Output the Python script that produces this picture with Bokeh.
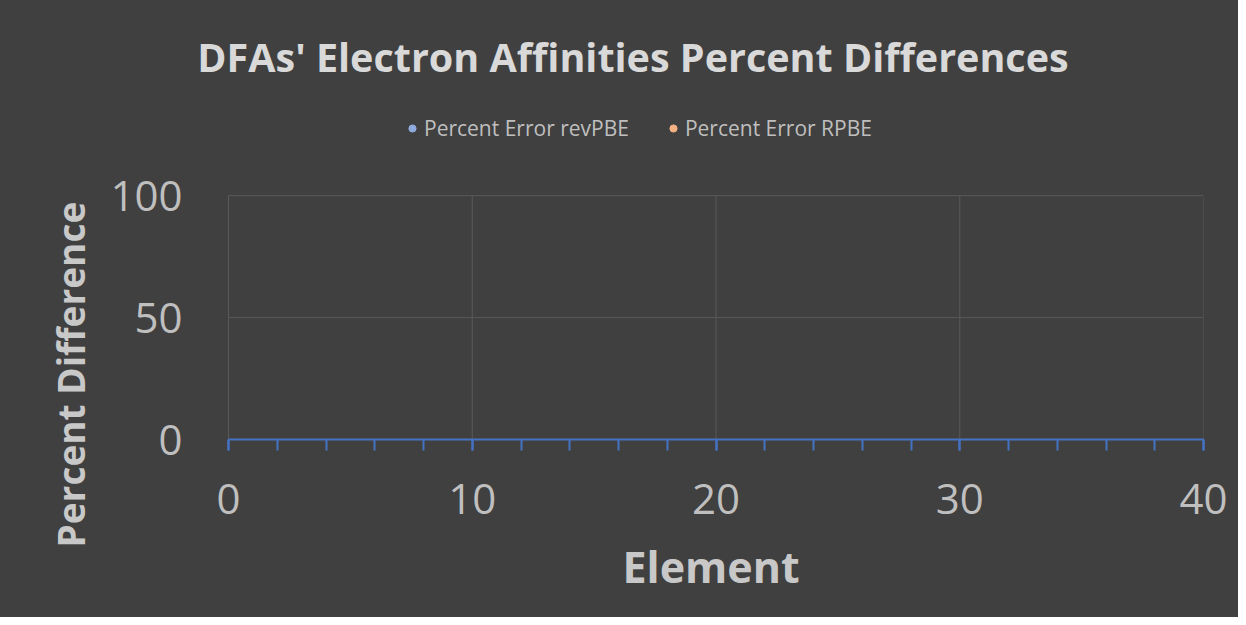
import numpy as np
from bokeh.plotting import figure
from bokeh.models import (ColumnDataSource, FixedTicker, Legend, LegendItem, Range1d, Title, Label)
from bokeh.embed import file_html
from bokeh.resources import INLINE

# ---- data (no point is visible in the reference: placeholder entries are empty/NaN) ----
element = [np.nan]
percent_error_revpbe = [np.nan]
percent_error_rpbe = [np.nan]

x_major_ticks = [0, 10, 20, 30, 40]
x_minor_ticks = [0, 2, 4, 6, 8, 10, 12, 14, 16, 18, 20, 22, 24, 26, 28, 30, 32, 34, 36, 38, 40]
y_ticks = [0, 50, 100]

title_text = "DFAs' Electron Affinities Percent Differences"
x_title = "Element"
y_title = "Percent Difference"
series_names = ["Percent Error revPBE", "Percent Error RPBE"]
series_colors = ["#8FAADC", "#F4B183"]

BG = "#404040"
GRID = "#595959"
FONT = "Open Sans"

# ---- layout in pixels ----
W, H = 1238, 617
AREA_LEFT, AREA_RIGHT, AREA_TOP, AREA_BOTTOM = 228, 1203, 196, 441   # plotted area
FRAME_LEFT, FRAME_TOP = 190, 0                                        # frame extends left/up to hold texts

xmin, xmax = x_major_ticks[0], x_major_ticks[-1]
ymin, ymax = y_ticks[0], y_ticks[-1]
px_per_x = (AREA_RIGHT - AREA_LEFT) / (xmax - xmin)
px_per_y = (AREA_BOTTOM - AREA_TOP) / (ymax - ymin)
x_start = xmin - (AREA_LEFT - FRAME_LEFT) / px_per_x
y_end = ymax + (AREA_TOP - FRAME_TOP) / px_per_y

p = figure(width=W, height=H, output_backend="svg", toolbar_location=None, title=None,
           x_range=Range1d(x_start, xmax), y_range=Range1d(ymin, y_end),
           min_border_left=FRAME_LEFT, min_border_right=W - AREA_RIGHT,
           min_border_top=FRAME_TOP, min_border_bottom=H - AREA_BOTTOM,
           background_fill_color=BG, border_fill_color=BG)
p.outline_line_color = None
p.styles = {"background-color": BG}
p.xgrid.visible = False
p.ygrid.visible = False

# grid lines limited to the plotted area
p.segment(x0=x_major_ticks, y0=[ymin] * len(x_major_ticks),
          x1=x_major_ticks, y1=[ymax] * len(x_major_ticks), line_color=GRID, line_width=1)
p.segment(x0=[xmin] * len(y_ticks), y0=y_ticks, x1=[xmax] * len(y_ticks), y1=y_ticks,
          line_color=GRID, line_width=1)

src1 = ColumnDataSource(dict(x=element, y=percent_error_revpbe))
src2 = ColumnDataSource(dict(x=element, y=percent_error_rpbe))
r1 = p.scatter("x", "y", source=src1, size=7, marker="circle", color=series_colors[0])
r2 = p.scatter("x", "y", source=src2, size=7, marker="circle", color=series_colors[1])

# x axis
xa = p.xaxis[0]
xa.bounds = (xmin, xmax)
xa.ticker = FixedTicker(ticks=x_major_ticks, minor_ticks=x_minor_ticks)
xa.axis_line_color = "#4472C4"
xa.axis_line_width = 2
xa.major_tick_line_color = "#4472C4"
xa.major_tick_line_width = 2
xa.minor_tick_line_color = "#4472C4"
xa.minor_tick_line_width = 2
xa.major_tick_in = 0
xa.major_tick_out = 11
xa.minor_tick_in = 0
xa.minor_tick_out = 11
xa.major_label_text_font = FONT
xa.major_label_text_font_size = "42px"
xa.major_label_text_color = "#BFBFBF"
xa.major_label_standoff = 33

# y axis
ya = p.yaxis[0]
ya.ticker = FixedTicker(ticks=y_ticks)
ya.axis_line_color = None
ya.major_tick_line_color = None
ya.minor_tick_line_color = None
ya.major_tick_out = 0
ya.major_tick_in = 0
ya.minor_tick_out = 0
ya.minor_tick_in = 0
ya.major_label_text_font = FONT
ya.major_label_text_font_size = "42px"
ya.major_label_text_color = "#BFBFBF"
ya.major_label_standoff = 8

# chart title (inside the extended frame)
p.add_layout(Label(x=632.5 - FRAME_LEFT, y=AREA_BOTTOM - 58, x_units="screen", y_units="screen",
                   text=title_text, text_align="center", text_baseline="alphabetic",
                   text_font=FONT, text_font_size="39.5px", text_font_style="bold",
                   text_color="#D9D9D9"))

# legend
legend = Legend(items=[LegendItem(label=series_names[0], renderers=[r1]),
                       LegendItem(label=series_names[1], renderers=[r2])],
                location=(403 - FRAME_LEFT, AREA_BOTTOM - 145), orientation="horizontal",
                padding=0, margin=0, spacing=35, label_standoff=3,
                glyph_width=18, glyph_height=30, label_height=30,
                label_text_font=FONT, label_text_font_size="21px", label_text_color="#BFBFBF",
                background_fill_alpha=0, border_line_color=None)
p.add_layout(legend, "center")

# x axis title
p.add_layout(Title(text=x_title, align="left", offset=432, standoff=40, vertical_align="top",
                   text_font=FONT, text_font_size="43px", text_font_style="bold",
                   text_color="#C8C8C8"), "below")

# y axis title
p.add_layout(Title(text=y_title, align="left", offset=-108, standoff=24,
                   text_font=FONT, text_font_size="37px", text_font_style="bold",
                   text_color="#C8C8C8"), "left")

open("out.html", "w").write(file_html(p, INLINE))
